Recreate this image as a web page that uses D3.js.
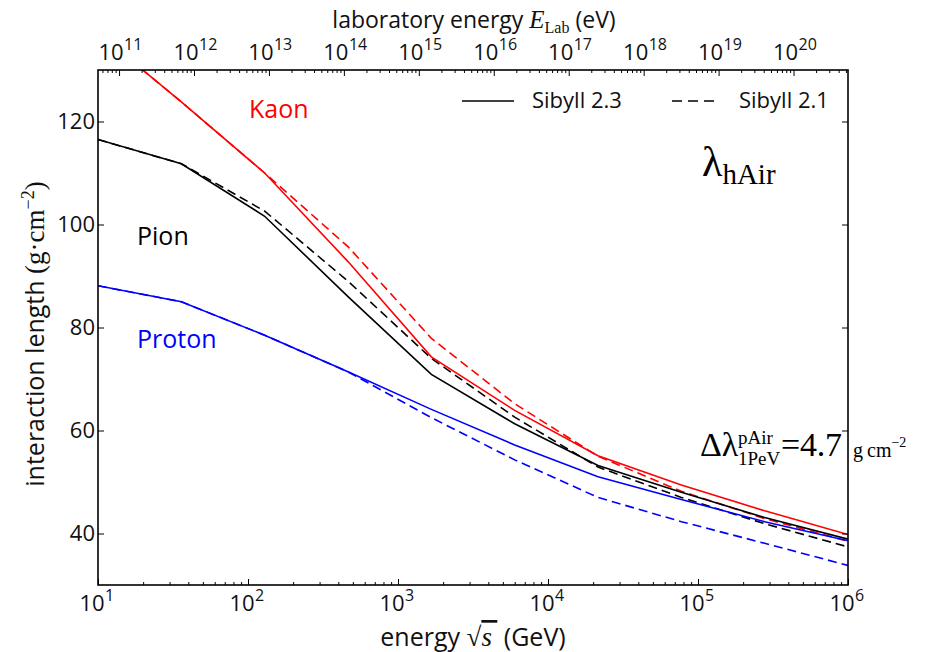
<!DOCTYPE html>
<html>
<head>
<meta charset="utf-8">
<script src="https://cdn.jsdelivr.net/npm/d3@7"></script>
<style>
  body { margin: 0; background: #fff; }
  svg { font-family: "Open Sans", sans-serif; }
  .math { font-family: "Liberation Serif", "DejaVu Serif", serif; }
</style>
</head>
<body>
<div id="chart"></div>
<script>
// sqrt(s) grid in GeV (log spaced from 10 to 1e6)
const sqrtS = [10, 35.94, 129.15, 464.16, 1668.1, 5994.8, 21544, 77426, 278256, 1000000];

// interaction length in g/cm^2
const kaon23   = [137.2, 123.8, 110.0, 92.8, 74.3, 63.9, 55.1, 49.4, 44.4, 39.8];
const kaon21   = [137.2, 123.8, 110.0, 95.7, 77.9, 65.2, 55.0, 48.2, 42.9, 38.5];
const pion23   = [116.5, 111.8, 101.6, 86.0, 70.9, 61.3, 53.2, 48.0, 43.1, 38.9];
const pion21   = [116.5, 111.8, 102.6, 89.0, 74.0, 62.6, 52.9, 47.0, 41.9, 37.4];
const proton23 = [88.1, 85.0, 78.5, 71.4, 64.1, 57.2, 51.0, 46.6, 42.3, 38.6];
const proton21 = [88.1, 85.0, 78.5, 71.4, 62.5, 54.3, 47.0, 42.3, 38.1, 33.8];

const yTicks = [40, 60, 80, 100, 120];
const xExps = [1, 2, 3, 4, 5, 6];
const labExps = [11, 12, 13, 14, 15, 16, 17, 18, 19, 20];
const protonMass = 0.938; // GeV

const width = 928, height = 652;
const margin = { top: 70, right: 80, bottom: 67, left: 98 };

const svg = d3.select("#chart").append("svg")
  .attr("width", width).attr("height", height);

const x = d3.scaleLog().domain([10, 1e6]).range([margin.left, width - margin.right]);
const y = d3.scaleLinear().domain([30, 130]).range([height - margin.bottom, margin.top]);

// lab energy (eV) for a given sqrt(s) (GeV)
const eLab = rs => (rs * rs - 2 * protonMass * protonMass) / (2 * protonMass) * 1e9;
const xLab = d3.scaleLog().domain([eLab(10), eLab(1e6)]).range(x.range());

const x0 = x.range()[0], x1 = x.range()[1], y0 = y.range()[0], y1 = y.range()[1];

svg.append("clipPath").attr("id", "clip")
  .append("rect").attr("x", x0).attr("y", y1).attr("width", x1 - x0).attr("height", y0 - y1);

// series
const series = [
  { vals: pion21,   color: "#000", dash: "9,5" },
  { vals: proton21, color: "#00f", dash: "9,5" },
  { vals: kaon21,   color: "#f00", dash: "9,5" },
  { vals: pion23,   color: "#000", dash: null },
  { vals: proton23, color: "#00f", dash: null },
  { vals: kaon23,   color: "#f00", dash: null }
];

const line = d3.line().x(d => x(d[0])).y(d => y(d[1]));

svg.append("g").attr("clip-path", "url(#clip)")
  .selectAll("path")
  .data(series)
  .join("path")
    .attr("fill", "none")
    .attr("stroke", d => d.color)
    .attr("stroke-width", 1.6)
    .attr("stroke-dasharray", d => d.dash)
    .attr("d", d => line(d3.zip(sqrtS, d.vals)));

// minor tick values
const minorX = [];
for (let e = 1; e < 6; e++) for (let m = 2; m <= 9; m++) minorX.push(m * 10 ** e);
const minorLab = [];
for (let e = 10; e <= 20; e++) for (let m = 2; m <= 9; m++) {
  const v = m * 10 ** e;
  if (v > xLab.domain()[0] && v < xLab.domain()[1]) minorLab.push(v);
}

const styleAxis = g => { g.select(".domain").remove(); g.selectAll("line").attr("stroke", "#000").attr("stroke-width", 1); };

// bottom
svg.append("g").attr("transform", `translate(0,${y0})`)
  .call(d3.axisBottom(x).tickValues(xExps.map(e => 10 ** e)).tickSize(-6).tickFormat(""))
  .call(styleAxis);
svg.append("g").attr("transform", `translate(0,${y0})`)
  .call(d3.axisBottom(x).tickValues(minorX).tickSize(-3).tickFormat(""))
  .call(styleAxis);
// top
svg.append("g").attr("transform", `translate(0,${y1})`)
  .call(d3.axisTop(xLab).tickValues(labExps.map(e => 10 ** e)).tickSize(-6).tickFormat(""))
  .call(styleAxis);
svg.append("g").attr("transform", `translate(0,${y1})`)
  .call(d3.axisTop(xLab).tickValues(minorLab).tickSize(-3).tickFormat(""))
  .call(styleAxis);
// left / right
svg.append("g").attr("transform", `translate(${x0},0)`)
  .call(d3.axisLeft(y).tickValues(yTicks).tickSize(-6).tickFormat(""))
  .call(styleAxis);
svg.append("g").attr("transform", `translate(${x1},0)`)
  .call(d3.axisRight(y).tickValues(yTicks).tickSize(-6).tickFormat(""))
  .call(styleAxis);

// frame
svg.append("rect")
  .attr("x", x0).attr("y", y1).attr("width", x1 - x0).attr("height", y0 - y1)
  .attr("fill", "none").attr("stroke", "#000").attr("stroke-width", 1.6);

// power-of-ten labels: "10" centred on the tick, exponent hanging to the right
function powLabel(g, px, py, exp) {
  g.append("text").attr("x", px).attr("y", py)
    .attr("text-anchor", "middle").attr("font-size", 22).attr("fill", "#111").text("10");
  g.append("text").attr("x", px + 13).attr("y", py - 10)
    .attr("font-size", 16).attr("fill", "#111").text(exp);
}
const labels = svg.append("g");
xExps.forEach(e => powLabel(labels, x(10 ** e) - 6, 611, e));
labExps.forEach(e => powLabel(labels, xLab(10 ** e) - 8, 60, e));

labels.selectAll("text.ytick")
  .data(yTicks)
  .join("text")
    .attr("class", "ytick")
    .attr("x", x0 - 3).attr("y", d => y(d))
    .attr("dy", "0.36em")
    .attr("text-anchor", "end")
    .attr("font-size", 22).attr("fill", "#111")
    .text(d => d);

// axis titles
const bt = svg.append("text").attr("x", 473).attr("y", 646)
  .attr("text-anchor", "middle").attr("font-size", 25).attr("fill", "#111");
bt.append("tspan").text("energy ");
bt.append("tspan").attr("class", "math").attr("font-size", 27).text("\u221A");
bt.append("tspan").attr("class", "math").attr("font-style", "italic").attr("font-size", 27)
  .style("text-decoration", "overline").text("s\u2009");
bt.append("tspan").text(" (GeV)");

const tt = svg.append("text").attr("x", 474).attr("y", 28)
  .attr("text-anchor", "middle").attr("font-size", 23).attr("fill", "#111");
tt.append("tspan").text("laboratory energy ");
tt.append("tspan").attr("class", "math").attr("font-style", "italic").attr("font-size", 25).text("E");
tt.append("tspan").attr("class", "math").attr("font-size", 16).attr("dy", 5).text("Lab");
tt.append("tspan").attr("dy", -5).text(" (eV)");

const yt = svg.append("text")
  .attr("transform", "translate(44,334) rotate(-90)")
  .attr("text-anchor", "middle").attr("font-size", 25).attr("fill", "#111");
yt.append("tspan").text("interaction length ");
yt.append("tspan").attr("class", "math").attr("font-size", 27).text("(g\u00B7cm");
yt.append("tspan").attr("class", "math").attr("font-size", 18).attr("dy", -10).text("\u22122");
yt.append("tspan").attr("class", "math").attr("font-size", 27).attr("dy", 10).text(")");

// curve labels
svg.append("text").attr("x", 249).attr("y", 118).attr("font-size", 25).attr("fill", "#f00").text("Kaon");
svg.append("text").attr("x", 137).attr("y", 245).attr("font-size", 25).attr("fill", "#000").text("Pion");
svg.append("text").attr("x", 137).attr("y", 348).attr("font-size", 25).attr("fill", "#00f").text("Proton");

// legend
const legend = svg.append("g");
legend.append("line").attr("x1", 462).attr("x2", 514).attr("y1", 101).attr("y2", 101)
  .attr("stroke", "#000").attr("stroke-width", 1.6);
legend.append("text").attr("x", 532).attr("y", 108).attr("font-size", 22).attr("fill", "#111").text("Sibyll 2.3");
legend.append("line").attr("x1", 672).attr("x2", 714).attr("y1", 101).attr("y2", 101)
  .attr("stroke", "#000").attr("stroke-width", 1.6).attr("stroke-dasharray", "10,6");
legend.append("text").attr("x", 739).attr("y", 108).attr("font-size", 22).attr("fill", "#111").text("Sibyll 2.1");

// lambda_hAir
const lam = svg.append("text").attr("class", "math").attr("x", 702).attr("y", 176).attr("fill", "#000");
lam.append("tspan").attr("font-size", 42).text("\u03BB");
lam.append("tspan").attr("font-size", 29).attr("dy", 8).text("hAir");

// delta lambda annotation
const dl = svg.append("g").attr("class", "math").attr("fill", "#000");
dl.append("text").attr("x", 700).attr("y", 456).attr("font-size", 34).text("\u0394\u03BB");
dl.append("text").attr("x", 738).attr("y", 444).attr("font-size", 19).text("pAir");
dl.append("text").attr("x", 738).attr("y", 465).attr("font-size", 19).text("1PeV");
dl.append("text").attr("x", 781).attr("y", 456).attr("font-size", 34)
  .attr("textLength", 61).attr("lengthAdjust", "spacing").text("=4.7");
const unit = dl.append("text").attr("x", 853).attr("y", 457).attr("font-size", 20);
unit.append("tspan").text("g\u2009cm");
unit.append("tspan").attr("font-size", 14).attr("dy", -10).text("\u22122");
</script>
</body>
</html>
